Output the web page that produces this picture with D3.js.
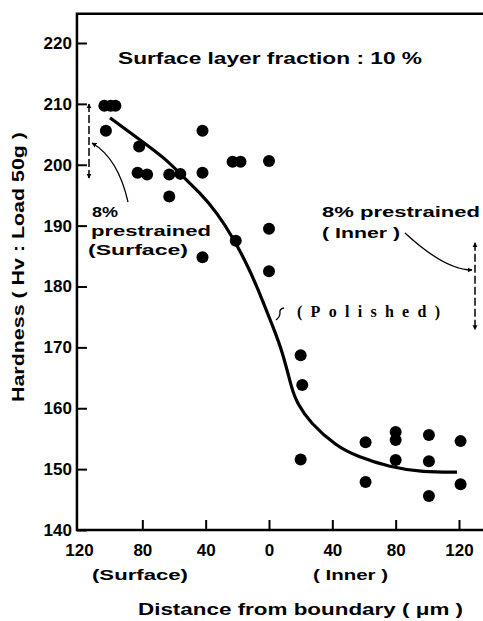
<!DOCTYPE html>
<html>
<head>
<meta charset="utf-8">
<script src="https://cdn.jsdelivr.net/npm/d3@7"></script>
<style>
  body { margin: 0; background: #fff; }
  svg { display: block; }
  .axis path, .axis line { stroke: #000; }
  .axis text { font-family: "Liberation Sans", Arial, sans-serif; font-weight: bold; font-size: 17px; fill: #000; }
</style>
</head>
<body>
<div id="plot"></div>
<script>
// ---- data (distance: negative = surface side, positive = inner side) ----
var pointDist = [-104, -100, -97, -103, -82, -83, -77, -63, -56, -63, -42, -42, -42,
                 -23, -18, 0, -21, 0, 0,
                 20, 21, 20, 61, 61, 80, 80, 80, 101, 101, 101, 121, 121];
var pointHard = [209.7, 209.7, 209.7, 205.6, 203.0, 198.7, 198.4, 198.4, 198.5, 194.8, 205.6, 198.7, 184.8,
                 200.5, 200.5, 200.6, 187.5, 189.5, 182.5,
                 168.7, 163.8, 151.6, 154.4, 147.9, 156.1, 154.8, 151.5, 155.6, 151.3, 145.6, 154.6, 147.5];

var curveDist = [-100.4, -81.5, -64.4, -54.3, -43.6, -32.8, -22.7, -12, -3.8, 2.5, 8.8, 14.5, 17.7, 25.9, 42.9, 55.6, 76.4, 97.3, 118.7];
var curveHard = [207.7, 204.1, 200.8, 198.0, 195.4, 192.1, 188.0, 182.7, 177.5, 173.4, 169.1, 163.0, 160.9, 157.6, 153.7, 152.1, 150.3, 149.5, 149.5];

var xTicks = [-120, -80, -40, 0, 40, 80, 120];
var yTicks = [140, 150, 160, 170, 180, 190, 200, 210, 220];

// prestrained ranges (hardness) shown as dashed double arrows
var surfaceRange = [210, 197.8];
var innerRange = [187.2, 172.9];

var svgWidth = 483, svgHeight = 621;

var svg = d3.select("#plot")
    .append("svg")
    .attr("width", svgWidth)
    .attr("height", svgHeight);

// scales
var xScale = d3.scaleLinear().domain([-120, 120]).range([79, 459]);
var yScale = d3.scaleLinear().domain([140, 220]).range([530, 43]);

var x0 = xScale(-121.3);   // y axis position
var xEnd = svgWidth;       // frame runs off the right edge
var yTop = yScale(224.8);

// arrow markers
var defs = svg.append("defs");
defs.append("marker")
    .attr("id", "head")
    .attr("viewBox", "0 0 10 10")
    .attr("refX", 9).attr("refY", 5)
    .attr("markerWidth", 5).attr("markerHeight", 6)
    .attr("markerUnits", "userSpaceOnUse")
    .attr("orient", "auto-start-reverse")
    .append("path")
    .attr("d", "M0,0 L10,5 L0,10 Z")
    .attr("fill", "#000");

// axes
var leftAxis = d3.axisLeft(yScale)
    .tickValues(yTicks)
    .tickSize(-10)
    .tickPadding(5)
    .tickFormat(d3.format("d"));

var bottomAxis = d3.axisBottom(xScale)
    .tickValues(xTicks)
    .tickSize(-10)
    .tickPadding(14)
    .tickFormat(d => Math.abs(d));

svg.append("g")
    .attr("class", "axis")
    .attr("transform", `translate(${x0}, 0)`)
    .call(leftAxis)
    .call(g => g.select(".domain").remove())
    .call(g => g.selectAll("line").attr("stroke-width", 2));

svg.append("g")
    .attr("class", "axis")
    .attr("transform", `translate(0, ${yScale(140)})`)
    .call(bottomAxis)
    .call(g => g.select(".domain").remove())
    .call(g => g.selectAll("line").attr("stroke-width", 2))
    .call(g => g.selectAll(".tick").filter(d => d === -120).select("line").remove());

// frame lines
svg.append("path")
    .attr("d", `M${xEnd},${yTop} L${x0},${yTop} L${x0},${yScale(140)} L${xEnd},${yScale(140)}`)
    .attr("fill", "none")
    .attr("stroke", "#000")
    .attr("stroke-width", 2.5);

// fitted curve
var line = d3.line()
    .x((d, i) => xScale(curveDist[i]))
    .y(d => yScale(d))
    .curve(d3.curveBasis);

svg.append("path")
    .datum(curveHard)
    .attr("d", line)
    .attr("fill", "none")
    .attr("stroke", "#000")
    .attr("stroke-width", 3.2);

// points
svg.selectAll("circle.pt")
    .data(pointHard)
    .enter()
    .append("circle")
    .attr("class", "pt")
    .attr("cx", (d, i) => xScale(pointDist[i]))
    .attr("cy", d => yScale(d))
    .attr("r", 6)
    .attr("fill", "#000");

// dashed double arrows
function rangeArrow(xPix, range) {
    svg.append("line")
        .attr("x1", xPix).attr("x2", xPix)
        .attr("y1", yScale(range[0])).attr("y2", yScale(range[1]))
        .attr("stroke", "#000")
        .attr("stroke-width", 1.5)
        .attr("stroke-dasharray", "8,3")
        .attr("marker-start", "url(#head)")
        .attr("marker-end", "url(#head)");
}
rangeArrow(89, surfaceRange);
rangeArrow(475, innerRange);

// curved pointers
svg.append("path")
    .attr("d", "M128,202 Q118,158 92,143")
    .attr("fill", "none").attr("stroke", "#000").attr("stroke-width", 1.3)
    .attr("marker-end", "url(#head)");

svg.append("path")
    .attr("d", "M405,233 Q445,270 472,270")
    .attr("fill", "none").attr("stroke", "#000").attr("stroke-width", 1.3)
    .attr("marker-end", "url(#head)");

// small hook for "(Polished)"
svg.append("path")
    .attr("d", "M284,308 Q279,309 280,313 Q280,317 276,320")
    .attr("fill", "none").attr("stroke", "#000").attr("stroke-width", 1.3);

// texts
function label(txt, x, y, size, len, opts) {
    opts = opts || {};
    var t = svg.append("text")
        .attr("x", x).attr("y", y)
        .attr("font-family", opts.family || "'Liberation Sans', Arial, sans-serif")
        .attr("font-weight", "bold")
        .attr("font-size", size)
        .attr("fill", "#000")
        .text(txt);
    if (len) t.attr("textLength", len).attr("lengthAdjust", opts.adjust || "spacingAndGlyphs");
    if (opts.anchor) t.attr("text-anchor", opts.anchor);
    if (opts.transform) t.attr("transform", opts.transform);
    return t;
}

label("Surface layer fraction : 10 %", 118, 64, 17, 304);
label("8%", 92, 217, 15, 26);
label("prestrained", 91, 236, 15, 120);
label("(Surface)", 88, 255, 15, 100);
label("8% prestrained", 322, 217, 15, 158);
label("( Inner )", 322, 238, 15, 78);
label("(Polished)", 297, 317, 16, 143, { family: "'Liberation Serif', serif", adjust: "spacing" });

// axis titles
label("(Surface)", 92, 580, 15, 96);
label("( Inner )", 313, 580, 15, 75);
label("Distance from boundary ( \u03bcm )", 138, 615, 17, 325);
label("Hardness ( Hv : Load 50g )", 0, 0, 16, 270, {
    transform: "translate(24, 402) rotate(-90)"
});
</script>
</body>
</html>
